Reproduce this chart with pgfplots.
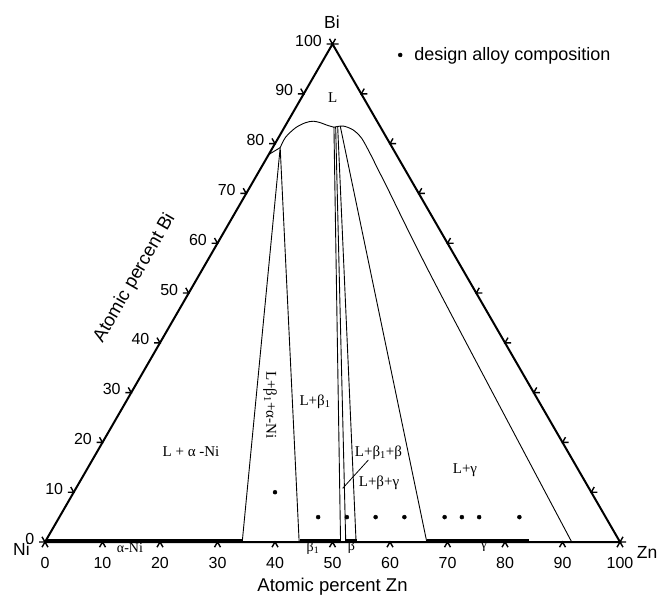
\documentclass[border=0pt]{standalone}
\usepackage{fontspec}
\setmainfont{Liberation Serif}
\setsansfont{Liberation Sans}
\usepackage{pgfplots}
\usepackage{pgfplotstable}
\pgfplotsset{compat=1.18}
\pgfdeclareplotmark{tickB}{\pgfpathmoveto{\pgfqpoint{-3pt}{-5.196pt}}\pgfpathlineto{\pgfpointorigin}\pgfpathlineto{\pgfqpoint{3pt}{-5.196pt}}\pgfusepathqstroke}
\pgfdeclareplotmark{tickL}{\pgfpathmoveto{\pgfqpoint{-6pt}{0pt}}\pgfpathlineto{\pgfpointorigin}\pgfpathlineto{\pgfqpoint{-3pt}{5.196pt}}\pgfusepathqstroke}
\pgfdeclareplotmark{tickR}{\pgfpathmoveto{\pgfqpoint{6pt}{0pt}}\pgfpathlineto{\pgfpointorigin}\pgfpathlineto{\pgfqpoint{3pt}{5.196pt}}\pgfusepathqstroke}
\pgfplotsset{/pgfplots/table/tern/.style={x expr=\thisrow{z}+0.5*\thisrow{b}, y expr=0.8660254*\thisrow{b}}}
% composition tables: z = at.% Zn, b = at.% Bi
\pgfplotstableread{
z b
0 0
100 0
0 100
0 0
}\edges
\pgfplotstableread{
z b
0 0
10 0
20 0
30 0
40 0
50 0
60 0
70 0
80 0
90 0
100 0
}\ticksB
\pgfplotstableread{
z b
0 0
0 10
0 20
0 30
0 40
0 50
0 60
0 70
0 80
0 90
0 100
}\ticksL
\pgfplotstableread{
z b
100 0
90 10
80 20
70 30
60 40
50 50
40 60
30 70
20 80
10 90
0 100
}\ticksR
\pgfplotstableread{
z b
0 77.8
1.3 79.2
}\liqA
\pgfplotstableread{
z b
1.3 79.2
1.2 81.3
2.0 83.2
3.2 84.2
4.4 84.5
5.8 84.2
7.2 83.7
8.6 83.3
}\liqB
\pgfplotstableread{
z b
8.6 83.3
10.1 83.53
12.25 82.73
14.55 81.06
17.5 78.05
20.62 74.7
23.76 71.35
42.49 51.27
91.6 0
}\liqC
\pgfplotstableread{
z b
35 10
45 5
50 5
55 5
60 5
67 5
70 5
73 5
80 5
}\alloys
\begin{document}
\begin{tikzpicture}
\begin{axis}[
  width=668pt, height=596pt, scale only axis,
  xmin=-7.826, xmax=108.348, ymin=-9.391, ymax=94.261,
  hide axis, clip=false,
  legend style={at={(axis cs:61.39,84.7)}, anchor=west, draw=none, fill=none,
    inner sep=0pt, outer sep=0pt, font=\sffamily\fontsize{18}{20}\selectfont},
  legend image code/.code={\fill (0pt,0pt) circle (2pt); \path (-2pt,0pt) (12pt,0pt);},
]
\path (rel axis cs:0,0) rectangle (rel axis cs:1,1);
% triangle edges
\addplot[black, line width=2pt, forget plot] table[tern] {\edges};
% single-phase ranges on the Ni-Zn edge
\addplot[black, line width=4pt, forget plot] table[tern] {
z b
0 0.18
34.3 0.18
};
\addplot[black, line width=4pt, forget plot] table[tern] {
z b
44.2 0.18
51.4 0.18
};
\addplot[black, line width=4pt, forget plot] table[tern] {
z b
52.3 0.18
54.1 0.18
};
\addplot[black, line width=4pt, forget plot] table[tern] {
z b
66.4 0.18
84.0 0.18
};
% ticks
\addplot[black, line width=1.4pt, only marks, mark=tickB, forget plot,
  nodes near coords, point meta=explicit symbolic,
  every node near coord/.append style={font=\sffamily\fontsize{16}{18}\selectfont, anchor=center, inner sep=0pt, yshift=-21pt}]
  table[tern, meta=z] {\ticksB};
\addplot[black, line width=1.4pt, only marks, mark=tickL, forget plot,
  nodes near coords, point meta=explicit symbolic,
  every node near coord/.append style={font=\sffamily\fontsize{16}{18}\selectfont, anchor=east, inner sep=0pt, xshift=-10pt, yshift=3.5pt}]
  table[tern, meta=b] {\ticksL};
\addplot[black, line width=1.4pt, only marks, mark=tickR, forget plot] table[tern] {\ticksR};
% liquidus
\addplot[black, line width=0.9pt, forget plot] table[tern] {\liqA};
\addplot[black, line width=0.9pt, smooth, tension=0.5, forget plot] table[tern] {\liqB};
\addplot[black, line width=0.9pt, smooth, tension=0.5, forget plot] table[tern] {\liqC};
% tie-triangle boundaries
\addplot[black, line width=0.9pt, forget plot] table[tern] {
z b
34.3 0
1.3 79.2
44.2 0
};
\addplot[black, line width=0.9pt, forget plot] table[tern] {
z b
8.6 83.3
51.4 0
};
\addplot[black, line width=0.9pt, forget plot] table[tern] {
z b
8.9 83.3
52.3 0
};
\addplot[black, line width=0.9pt, forget plot] table[tern] {
z b
9.2 83.4
54.1 0
};
\addplot[black, line width=0.9pt, forget plot] table[tern] {
z b
9.6 83.5
66.4 0
};
% leader line
\addplot[black, line width=0.8pt, forget plot] table[tern] {
z b
48.0 16.47
46.38 10.78
};
% alloy compositions
\addplot[black, only marks, mark=*, mark size=2pt] table[tern] {\alloys};
\addlegendentry{design alloy composition}
% labels
\node[font=\sffamily\fontsize{17.5}{20}\selectfont] at (axis cs:49.91,90.43) {Bi};
\node[font=\sffamily\fontsize{17.5}{20}\selectfont] at (axis cs:-4.09,-1.22) {Ni};
\node[font=\sffamily\fontsize{17.5}{20}\selectfont] at (axis cs:104.7,-1.74) {Zn};
\node[font=\sffamily\fontsize{18.5}{20}\selectfont] at (axis cs:50.0,-7.83) {Atomic percent Zn};
\node[font=\sffamily\fontsize{18.5}{20}\selectfont, rotate=60] at (axis cs:15.6,45.9) {Atomic percent Bi};
\node[font=\fontsize{15}{17}\selectfont] at (axis cs:50.03,77.34) {L};
\node[font=\fontsize{15}{17}\selectfont] at (axis cs:25.39,15.65) {L + α -Ni};
\node[font=\fontsize{15}{17}\selectfont, rotate=-90] at (axis cs:39.13,23.83) {L+β\textsubscript{1}+α-Ni};
\node[font=\fontsize{15}{17}\selectfont] at (axis cs:46.96,24.35) {L+β\textsubscript{1}};
\node[font=\fontsize{15}{17}\selectfont] at (axis cs:58.0,15.48) {L+β\textsubscript{1}+β};
\node[font=\fontsize{15}{17}\selectfont] at (axis cs:58.09,10.26) {L+β+γ};
\node[font=\fontsize{15}{17}\selectfont] at (axis cs:73.04,12.52) {L+γ};
\node[font=\fontsize{14}{16}\selectfont] at (axis cs:14.78,-1.04) {α-Ni};
\node[font=\fontsize{14}{16}\selectfont] at (axis cs:46.6,-1.1) {β\textsubscript{1}};
\node[font=\fontsize{14}{16}\selectfont] at (axis cs:53.3,-0.8) {β};
\node[font=\fontsize{14}{16}\selectfont] at (axis cs:76.35,-0.87) {γ};
\end{axis}
\end{tikzpicture}
\end{document}
